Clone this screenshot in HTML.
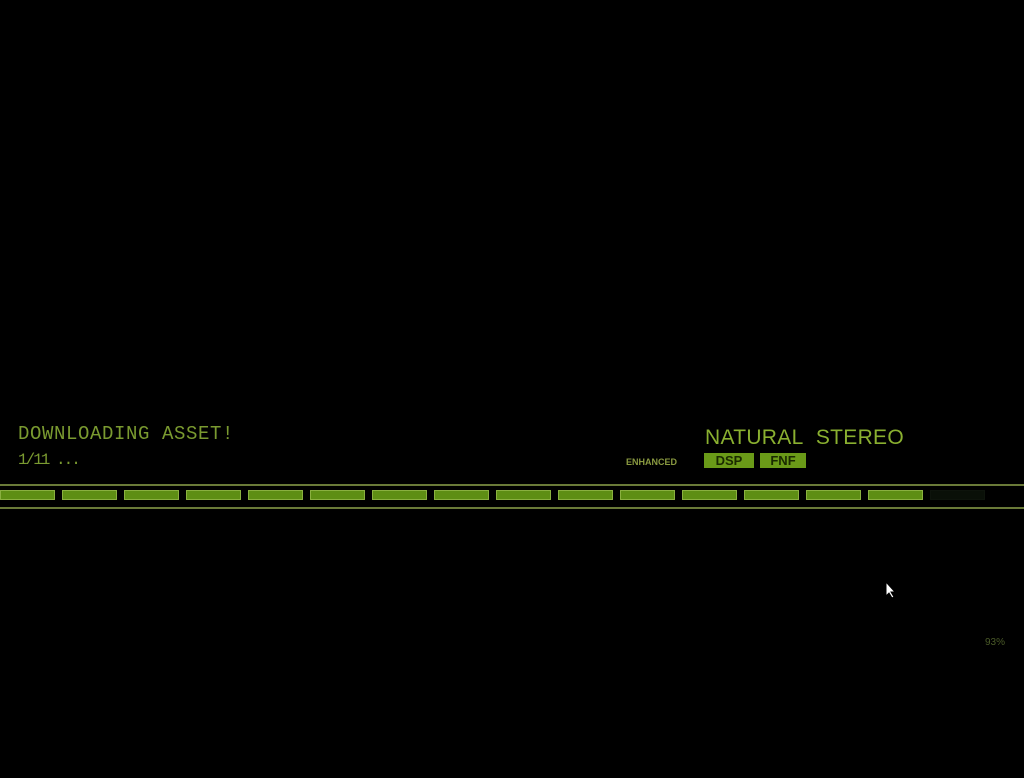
<!DOCTYPE html>
<html><head><meta charset="utf-8"><style>
html,body{margin:0;padding:0;background:#000;width:1024px;height:778px;overflow:hidden;position:relative;font-family:"Liberation Mono",monospace}
.t{position:absolute;color:#7a9a30;white-space:nowrap}
.line{position:absolute;left:0;width:1024px;height:2px;background:#6a7a38}
.seg{position:absolute;top:490px;height:10px;width:55px;background:#5e8e14;border:1px solid #8ab040;box-sizing:border-box}
.badge{position:absolute;top:453px;height:15px;background:#6a9a18;color:#1a2a00;font:bold 13px "Liberation Sans",sans-serif;text-align:center;line-height:15px}
</style></head><body>
<div class="t" style="left:18px;top:423px;font-size:19px;letter-spacing:0.6px;">DOWNLOADING ASSET!</div>
<div class="t" style="left:18px;top:451px;font-size:16px;letter-spacing:-2px;">1/11 ...</div>
<div class="t" style="left:705px;top:426px;font:21px 'Liberation Sans',sans-serif;color:#8ab030;letter-spacing:0.3px;">NATURAL&nbsp; STEREO</div>
<div class="t" style="left:626px;top:457px;font:bold 9px 'Liberation Sans',sans-serif;color:#8a9a40;">ENHANCED</div>
<div class="badge" style="left:704px;width:50px;">DSP</div>
<div class="badge" style="left:760px;width:46px;">FNF</div>
<div class="line" style="top:484px"></div>
<div class="line" style="top:507px"></div>
<div class="seg" style="left:0px"></div><div class="seg" style="left:62px"></div><div class="seg" style="left:124px"></div><div class="seg" style="left:186px"></div><div class="seg" style="left:248px"></div><div class="seg" style="left:310px"></div><div class="seg" style="left:372px"></div><div class="seg" style="left:434px"></div><div class="seg" style="left:496px"></div><div class="seg" style="left:558px"></div><div class="seg" style="left:620px"></div><div class="seg" style="left:682px"></div><div class="seg" style="left:744px"></div><div class="seg" style="left:806px"></div><div class="seg" style="left:868px"></div>
<div class="seg" style="left:930px;background:#0a1008;border-color:#0e140c"></div>
<div class="t" style="left:985px;top:637px;font:10px 'Liberation Sans',sans-serif;color:#4a5a28;">93%</div>
<svg style="position:absolute;left:885px;top:581px" width="12" height="18"><path d="M1 1 L1 15 L4 12 L7 17 L9 16 L6 11 L10 11 Z" fill="#fff" stroke="#000" stroke-width="1"/></svg>
</body></html>
